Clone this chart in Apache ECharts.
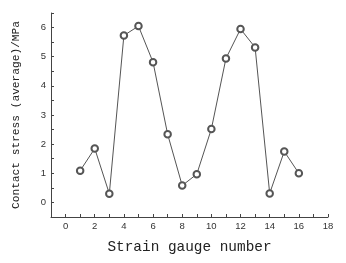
<!DOCTYPE html>
<html><head><meta charset="utf-8">
<script src="https://cdn.jsdelivr.net/npm/echarts@6/dist/echarts.min.js"></script>
<style>html,body{margin:0;padding:0;background:#fff}#c{width:346px;height:263px}</style>
</head><body><div id="c"></div>
<script>
const gaugeNumbers = [1,2,3,4,5,6,7,8,9,10,11,12,13,14,15,16];
const stressValues = [1.09,1.85,0.30,5.73,6.05,4.81,2.34,0.58,0.97,2.52,4.94,5.95,5.32,0.31,1.75,1.00];
const xTitle = 'Strain gauge number';
const yTitle = 'Contact stress (average)/MPa';

const chart = echarts.init(document.getElementById('c'));
chart.setOption({
  animation: false,
  backgroundColor: '#fff',
  grid: {left: 51, right: 18, top: 13, bottom: 46},
  xAxis: {
    type: 'value', min: -1, max: 18, interval: 1,
    name: xTitle, nameLocation: 'middle', nameGap: 23,
    nameTextStyle: {fontFamily: 'Liberation Mono', fontSize: 14.4, color: '#222'},
    axisLine: {show: true, onZero: false, lineStyle: {color: '#444', width: 1}},
    axisTick: {show: true, inside: true, length: 3, lineStyle: {color: '#444'}},
    axisLabel: {fontFamily: 'Liberation Sans', fontSize: 9.5, color: '#333', margin: 4,
      formatter: v => (v >= 0 && v % 2 === 0) ? String(v) : ''},
    splitLine: {show: false}
  },
  yAxis: {
    type: 'value', min: -0.5, max: 6.5, interval: 0.5,
    name: yTitle, nameLocation: 'middle', nameGap: 29, nameRotate: 90,
    nameTextStyle: {fontFamily: 'Liberation Mono', fontSize: 11.2, color: '#222'},
    axisLine: {show: true, onZero: false, lineStyle: {color: '#444', width: 1}},
    axisTick: {show: true, inside: true, length: 3, lineStyle: {color: '#444'}},
    axisLabel: {fontFamily: 'Liberation Sans', fontSize: 9.5, color: '#333', margin: 5,
      formatter: v => (Number.isInteger(v) && v >= 0) ? String(v) : ''},
    splitLine: {show: false}
  },
  series: [{
    type: 'line',
    data: gaugeNumbers.map((x, i) => [x, stressValues[i]]),
    symbol: 'emptyCircle', symbolSize: 6.5,
    lineStyle: {color: '#555', width: 1},
    itemStyle: {color: '#555', borderWidth: 0.8}
  }]
});
</script></body></html>
